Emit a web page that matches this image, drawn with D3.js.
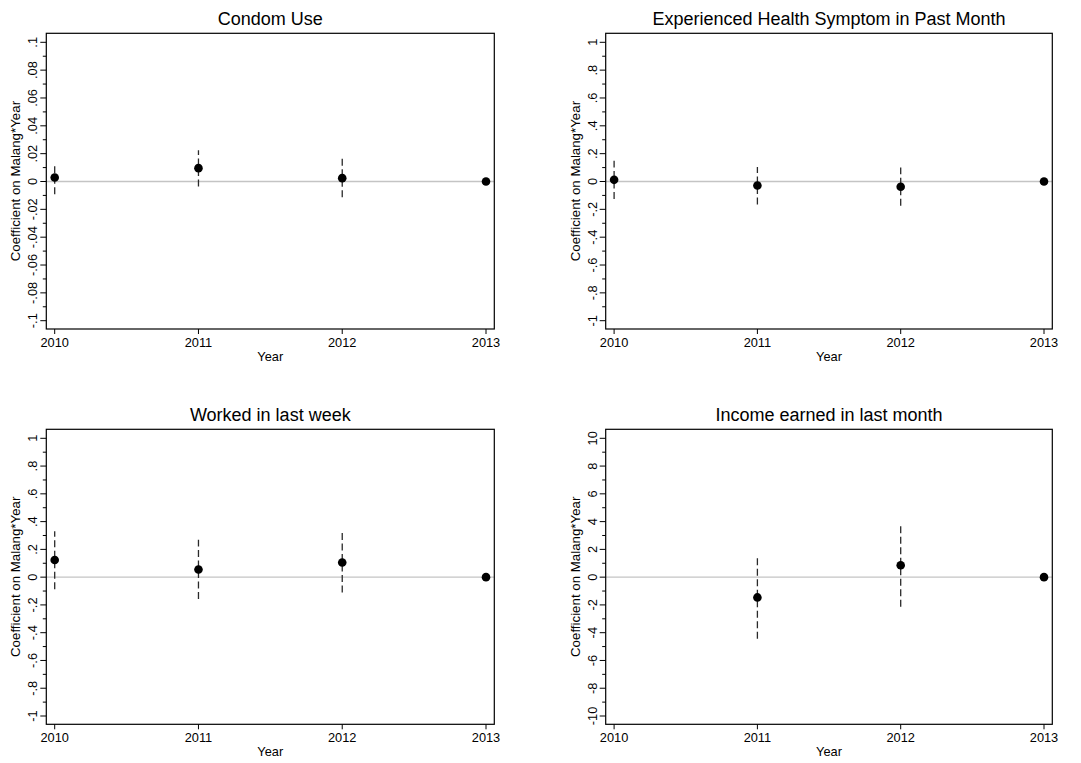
<!DOCTYPE html>
<html>
<head>
<meta charset="utf-8">
<script src="https://cdn.jsdelivr.net/npm/d3@7"></script>
<style>
body { margin: 0; background: #fff; }
text { font-family: "Liberation Sans", Arial, sans-serif; fill: #000; }
</style>
</head>
<body>
<script>
var width = 1081, height = 763;

// data
var years = [2010, 2011, 2012, 2013];
var titles = ["Condom Use", "Experienced Health Symptom in Past Month",
              "Worked in last week", "Income earned in last month"];

var condomCoef = [0.0029, 0.0096, 0.0024, 0];
var condomLo   = [-0.0091, -0.0036, -0.0113, null];
var condomHi   = [0.0132, 0.0225, 0.0163, null];

var healthCoef = [0.012, -0.029, -0.038, 0];
var healthLo   = [-0.125, -0.165, -0.175, null];
var healthHi   = [0.149, 0.105, 0.100, null];

var workCoef = [0.124, 0.055, 0.105, 0];
var workLo   = [-0.088, -0.158, -0.110, null];
var workHi   = [0.330, 0.270, 0.318, null];

var incomeCoef = [null, -1.46, 0.86, 0];
var incomeLo   = [null, -4.44, -2.13, null];
var incomeHi   = [null, 1.58, 3.80, null];

var condomTicks = [-0.1, -0.08, -0.06, -0.04, -0.02, 0, 0.02, 0.04, 0.06, 0.08, 0.1];
var condomTickLabels = ["-.1", "-.08", "-.06", "-.04", "-.02", "0", ".02", ".04", ".06", ".08", ".1"];
var unitTicks = [-1, -0.8, -0.6, -0.4, -0.2, 0, 0.2, 0.4, 0.6, 0.8, 1];
var unitTickLabels = ["-1", "-.8", "-.6", "-.4", "-.2", "0", ".2", ".4", ".6", ".8", "1"];
var incomeTicks = [-10, -8, -6, -4, -2, 0, 2, 4, 6, 8, 10];
var incomeTickLabels = ["-10", "-8", "-6", "-4", "-2", "0", "2", "4", "6", "8", "10"];

var yTitle = "Coefficient on Malang*Year";
var xTitle = "Year";

// panel boxes
var boxes = [
  {left: 46.3, right: 494.3, top: 33.3, bottom: 329},
  {left: 605.7, right: 1052.3, top: 33.3, bottom: 329},
  {left: 46.3, right: 494.3, top: 429.3, bottom: 724.3},
  {left: 605.7, right: 1052.3, top: 429.3, bottom: 724.3}
];

var panels = [
  {coef: condomCoef, lo: condomLo, hi: condomHi, ticks: condomTicks, labels: condomTickLabels},
  {coef: healthCoef, lo: healthLo, hi: healthHi, ticks: unitTicks, labels: unitTickLabels},
  {coef: workCoef, lo: workLo, hi: workHi, ticks: unitTicks, labels: unitTickLabels},
  {coef: incomeCoef, lo: incomeLo, hi: incomeHi, ticks: incomeTicks, labels: incomeTickLabels}
];

var svg = d3.select('body').append('svg').attr('width', width).attr('height', height);

panels.forEach(function(p, i) {
  var b = boxes[i];
  var lim = p.ticks[p.ticks.length - 1];
  var x = d3.scaleLinear().domain([years[0], years[years.length - 1]]).range([b.left + 8.4, b.right - 8.3]);
  var y = d3.scaleLinear().domain([-lim, lim]).range([b.bottom - 8.3, b.top + 9]);
  var g = svg.append('g');

  // title
  g.append('text')
    .attr('x', (b.left + b.right) / 2).attr('y', b.top - 8.5)
    .attr('text-anchor', 'middle').style('font-size', '18px')
    .text(titles[i]);

  // zero line
  g.append('line')
    .attr('x1', b.left).attr('x2', b.right)
    .attr('y1', y(0)).attr('y2', y(0))
    .attr('stroke', '#c4c4c4').attr('stroke-width', 1.3);

  // y axis (major + minor ticks, rotated labels)
  var minor = d3.pairs(p.ticks).map(function(d) { return (d[0] + d[1]) / 2; });
  g.selectAll('.ymin').data(minor).join('line')
    .attr('x1', b.left - 3.5).attr('x2', b.left)
    .attr('y1', function(d) { return y(d); }).attr('y2', function(d) { return y(d); })
    .attr('stroke', '#000').attr('stroke-width', 1);
  g.selectAll('.ymaj').data(p.ticks).join('line')
    .attr('x1', b.left - 6).attr('x2', b.left)
    .attr('y1', function(d) { return y(d); }).attr('y2', function(d) { return y(d); })
    .attr('stroke', '#000').attr('stroke-width', 1);
  g.selectAll('.ylab').data(p.ticks).join('text')
    .attr('transform', function(d) { return 'translate(' + (b.left - 9) + ',' + y(d) + ') rotate(-90)'; })
    .attr('text-anchor', 'middle').style('font-size', '12.8px')
    .text(function(d, j) { return p.labels[j]; });

  g.append('text')
    .attr('transform', 'translate(' + (b.left - 26) + ',' + ((b.top + b.bottom) / 2) + ') rotate(-90)')
    .attr('text-anchor', 'middle').style('font-size', '13.3px')
    .text(yTitle);

  // x axis
  g.selectAll('.xmaj').data(years).join('line')
    .attr('x1', function(d) { return x(d); }).attr('x2', function(d) { return x(d); })
    .attr('y1', b.bottom).attr('y2', b.bottom + 5)
    .attr('stroke', '#000').attr('stroke-width', 1);
  g.selectAll('.xlab').data(years).join('text')
    .attr('x', function(d) { return x(d); }).attr('y', b.bottom + 17.7)
    .attr('text-anchor', 'middle').style('font-size', '12.8px')
    .text(function(d) { return d; });
  g.append('text')
    .attr('x', (b.left + b.right) / 2).attr('y', b.bottom + 31.5)
    .attr('text-anchor', 'middle').style('font-size', '12.8px')
    .text(xTitle);

  // confidence intervals, drawn from lower to upper bound
  var ci = years.map(function(yr, j) { return {year: yr, lo: p.lo[j], hi: p.hi[j]}; })
    .filter(function(d) { return d.lo != null; });
  g.selectAll('.ci').data(ci).join('line')
    .attr('x1', function(d) { return x(d.year); }).attr('x2', function(d) { return x(d.year); })
    .attr('y1', function(d) { return y(d.lo); }).attr('y2', function(d) { return y(d.hi); })
    .attr('stroke', '#2a2a2a').attr('stroke-width', 1.3)
    .attr('stroke-dasharray', '7,3.5');

  // point estimates
  var pts = years.map(function(yr, j) { return {year: yr, v: p.coef[j]}; })
    .filter(function(d) { return d.v != null; });
  g.selectAll('.pt').data(pts).join('circle')
    .attr('cx', function(d) { return x(d.year); })
    .attr('cy', function(d) { return y(d.v); })
    .attr('r', 4.3).attr('fill', '#000');

  // plot box
  g.append('rect')
    .attr('x', b.left).attr('y', b.top)
    .attr('width', b.right - b.left).attr('height', b.bottom - b.top)
    .attr('fill', 'none').attr('stroke', '#000').attr('stroke-width', 1.2);
});
console.log('ready..');
</script>
</body>
</html>
